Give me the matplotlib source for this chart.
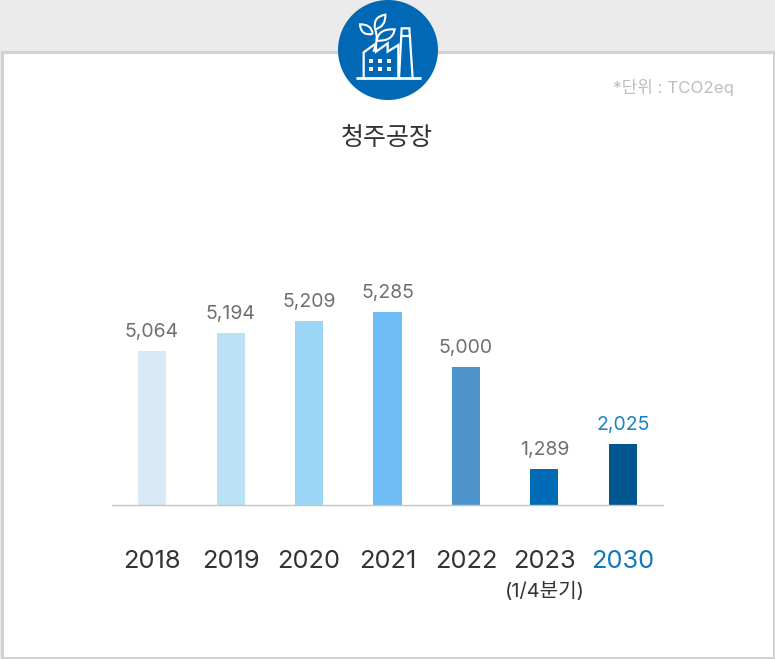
import matplotlib
matplotlib.use("Agg")
import matplotlib.pyplot as plt
from matplotlib.patches import Circle, PathPatch, Rectangle
from matplotlib.path import Path

plt.rcParams['font.family'] = ['Inter', 'Noto Sans CJK KR', 'DejaVu Sans']

# Data
years = ['2018', '2019', '2020', '2021', '2022', '2023', '2030']
value_labels = ['5,064', '5,194', '5,209', '5,285', '5,000', '1,289', '2,025']
# the drawn bars are not proportional to the labels, so heights are read off the picture
bar_heights = [154.5, 172.5, 184.5, 193.5, 138.5, 36.5, 61.5]
bar_colors = ['#d6e9f4', '#bbe1f6', '#9cd6f6', '#6dbcf6', '#4d94cc', '#006ab6', '#00568f']
label_colors = ['#707070'] * 6 + ['#1a82c4']
tick_colors = ['#333333'] * 6 + ['#0f78b8']

W, H = 775, 659
fig = plt.figure(figsize=(W / 100, H / 100), dpi=100, facecolor='#ebebeb')

# Background panel and icon, in pixel coordinates
bg = fig.add_axes([0, 0, 1, 1])
bg.set_xlim(0, W)
bg.set_ylim(H, 0)
bg.axis('off')
bg.add_patch(Rectangle((1.5, 51.5), W - 3, H - 53, facecolor='white', edgecolor='#d2d2d2', linewidth=2.2))
bg.add_patch(Circle((388, 50), 50, facecolor='#0068b4', edgecolor='none'))


def icon_xy(x, y):
    # coordinates taken from a 3x crop starting at x=320
    return 320 + x / 3, y / 3


def icon_line(points, lw=1.6):
    xs, ys = zip(*[icon_xy(*p) for p in points])
    bg.plot(xs, ys, color='white', lw=lw, solid_joinstyle='miter', solid_capstyle='butt')


def leaf(start, tip, ctrl1, ctrl2):
    verts = [icon_xy(*p) for p in [start, ctrl1, tip, ctrl2, start]]
    codes = [Path.MOVETO, Path.CURVE3, Path.CURVE3, Path.CURVE3, Path.CURVE3]
    bg.add_patch(PathPatch(Path(verts, codes), facecolor='none', edgecolor='white', lw=1.5))


icon_line([(107, 235), (303, 235)], lw=2)
icon_line([(131, 235), (131, 157), (168, 130), (168, 155), (203, 130), (203, 155), (235, 135), (235, 235)])
icon_line([(237, 235), (245, 85), (268, 85), (278, 235)])
icon_line([(242, 108), (271, 108)])
for wx in [152, 180, 207]:
    for wy in [184, 208]:
        cx, cy = icon_xy(wx, wy)
        bg.add_patch(Rectangle((cx - 2, cy - 2), 4, 4, facecolor='white', edgecolor='none'))
leaf((165, 88), (196, 44), (158, 50), (198, 80))
leaf((158, 102), (120, 73), (122, 108), (155, 72))
leaf((170, 122), (224, 88), (218, 125), (175, 85))
stem = Path([icon_xy(160, 155), icon_xy(178, 115), icon_xy(165, 88)], [Path.MOVETO, Path.CURVE3, Path.CURVE3])
bg.add_patch(PathPatch(stem, facecolor='none', edgecolor='white', lw=1.5))

bg.text(387, 138, '청주공장', family=['Noto Sans CJK KR'], fontsize=18, color='#333333', ha='center', va='center')
bg.text(734, 88, '*단위 : TCO2eq', fontsize=12.2, color='#bdbdbd', ha='right', va='center')

# Bar chart
base_y, top_y = 505, 205
ax = fig.add_axes([112 / W, 1 - base_y / H, (663 - 112) / W, (base_y - top_y) / H])
ax.patch.set_alpha(0)
x = range(len(years))
bars = ax.bar(x, bar_heights, width=0.357, color=bar_colors)
ax.set_xlim(-0.51, 6.51)
ax.set_ylim(0, base_y - top_y)

labels = ax.bar_label(bars, labels=value_labels, padding=7, fontsize=14)
for text, color in zip(labels, label_colors):
    text.set_color(color)

ax.set_xticks(list(x))
ax.set_xticklabels(years, fontsize=18.3)
for tick, color in zip(ax.get_xticklabels(), tick_colors):
    tick.set_color(color)
ax.tick_params(axis='x', length=0, pad=32.5)
ax.set_yticks([])
for side in ['top', 'left', 'right']:
    ax.spines[side].set_visible(False)
ax.spines['bottom'].set_color('#c4c4c4')
ax.spines['bottom'].set_linewidth(1)

bg.text(545, 591, '(1/4분기)', fontsize=14.5, color='#333333', ha='center', va='center')

fig.savefig('out.png', dpi=100, facecolor=fig.get_facecolor())
